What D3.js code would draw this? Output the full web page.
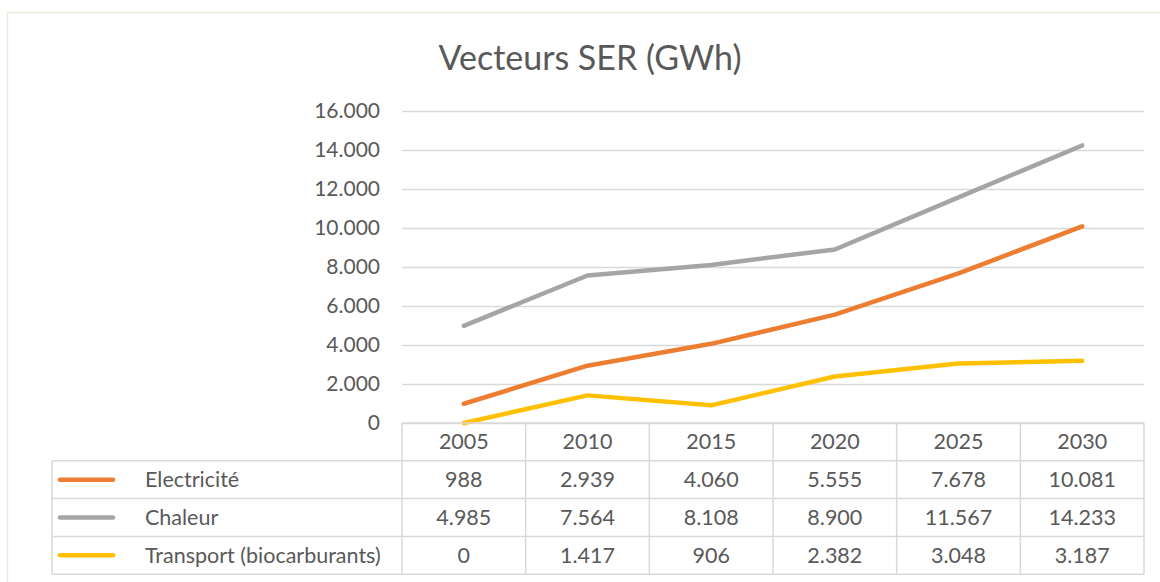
<!DOCTYPE html>
<html>
<head>
<meta charset="utf-8">
<script src="https://cdn.jsdelivr.net/npm/d3@7"></script>
<style>
  body { margin: 0; background: #fff; }
  svg { display: block; font-family: Lato, "Open Sans", sans-serif; }
</style>
</head>
<body>
<svg id="chart" width="1160" height="582"></svg>
<script>
// data
const years = ['2005', '2010', '2015', '2020', '2025', '2030']
const seriesNames = ['Electricité', 'Chaleur', 'Transport (biocarburants)']
const electricite = [988, 2939, 4060, 5555, 7678, 10081]
const chaleur = [4985, 7564, 8108, 8900, 11567, 14233]
const transport = [0, 1417, 906, 2382, 3048, 3187]
const yTicks = [0, 2000, 4000, 6000, 8000, 10000, 12000, 14000, 16000]

const series = [
  { name: seriesNames[0], values: electricite, color: '#ed7d31' },
  { name: seriesNames[1], values: chaleur,     color: '#a5a5a5' },
  { name: seriesNames[2], values: transport,   color: '#ffc000' },
]

const W = 1160, H = 582
const plotL = 402, plotR = 1144, plotT = 111, plotB = 423
const rowH = 37.8
const legendL = 52
const textCol = '#595959'
const gridCol = '#d9d9d9'
const fs = 21.5

const fmt = v => d3.format(',')(v).replace(/,/g, '.')

const svg = d3.select('#chart')

// chart frame
svg.append('rect')
  .attr('x', 7.5).attr('y', 12.5)
  .attr('width', W).attr('height', H)
  .attr('fill', '#fff')
  .attr('stroke', '#ecebdf').attr('stroke-width', 1.5)

svg.append('text')
  .attr('x', 590).attr('y', 70)
  .attr('text-anchor', 'middle')
  .attr('font-size', 34)
  .attr('fill', textCol)
  .text('Vecteurs SER (GWh)')

const x = d3.scaleBand().domain(years).range([plotL, plotR])
const y = d3.scaleLinear().domain([0, 16000]).range([plotB, plotT])

// gridlines + y labels
const yAxis = svg.append('g')
  .attr('transform', `translate(${plotL},0)`)
  .call(d3.axisLeft(y).tickValues(yTicks).tickFormat(fmt).tickSize(-(plotR - plotL)).tickPadding(22))
yAxis.select('.domain').remove()
yAxis.selectAll('.tick line').attr('stroke', gridCol).attr('stroke-width', 1.5)
yAxis.selectAll('.tick text')
  .attr('font-size', 21).attr('fill', textCol)
  .attr('font-family', 'Lato, sans-serif')

// lines
const line = d3.line()
  .x((d, i) => x(years[i]) + x.bandwidth() / 2)
  .y(d => y(d))

svg.append('g').selectAll('path')
  .data(series).join('path')
  .attr('d', d => line(d.values))
  .attr('fill', 'none')
  .attr('stroke', d => d.color)
  .attr('stroke-width', 4.5)
  .attr('stroke-linecap', 'round')
  .attr('stroke-linejoin', 'round')

// data table
const table = svg.append('g').attr('stroke', gridCol).attr('stroke-width', 1.5)
const nRows = series.length
const tableB = plotB + rowH * (nRows + 1)

// horizontal rules
table.append('line').attr('x1', plotL).attr('x2', plotR).attr('y1', plotB).attr('y2', plotB)
d3.range(1, nRows + 2).forEach(r => {
  table.append('line')
    .attr('x1', legendL).attr('x2', plotR)
    .attr('y1', plotB + r * rowH).attr('y2', plotB + r * rowH)
})
// vertical rules
years.forEach(yr => {
  table.append('line')
    .attr('x1', x(yr)).attr('x2', x(yr))
    .attr('y1', plotB).attr('y2', tableB)
})
table.append('line').attr('x1', plotR).attr('x2', plotR).attr('y1', plotB).attr('y2', tableB)
table.append('line').attr('x1', legendL).attr('x2', legendL).attr('y1', plotB + rowH).attr('y2', tableB)

const cellText = svg.append('g')
  .attr('font-size', fs).attr('fill', textCol).attr('text-anchor', 'middle')

cellText.selectAll('text.yr')
  .data(years).join('text')
  .attr('class', 'yr')
  .attr('x', d => x(d) + x.bandwidth() / 2)
  .attr('y', plotB + rowH / 2 + 7.5)
  .text(d => d)

series.forEach((s, r) => {
  const cy = plotB + (r + 1) * rowH + rowH / 2
  cellText.append('g').selectAll('text')
    .data(s.values).join('text')
    .attr('x', (d, i) => x(years[i]) + x.bandwidth() / 2)
    .attr('y', cy + 7.5)
    .text(fmt)

  svg.append('line')
    .attr('x1', 60).attr('x2', 113)
    .attr('y1', cy).attr('y2', cy)
    .attr('stroke', s.color).attr('stroke-width', 4.5)
    .attr('stroke-linecap', 'round')

  svg.append('text')
    .attr('x', 145).attr('y', cy + 7.5)
    .attr('font-size', fs).attr('fill', textCol)
    .text(s.name)
})
</script>
</body>
</html>
